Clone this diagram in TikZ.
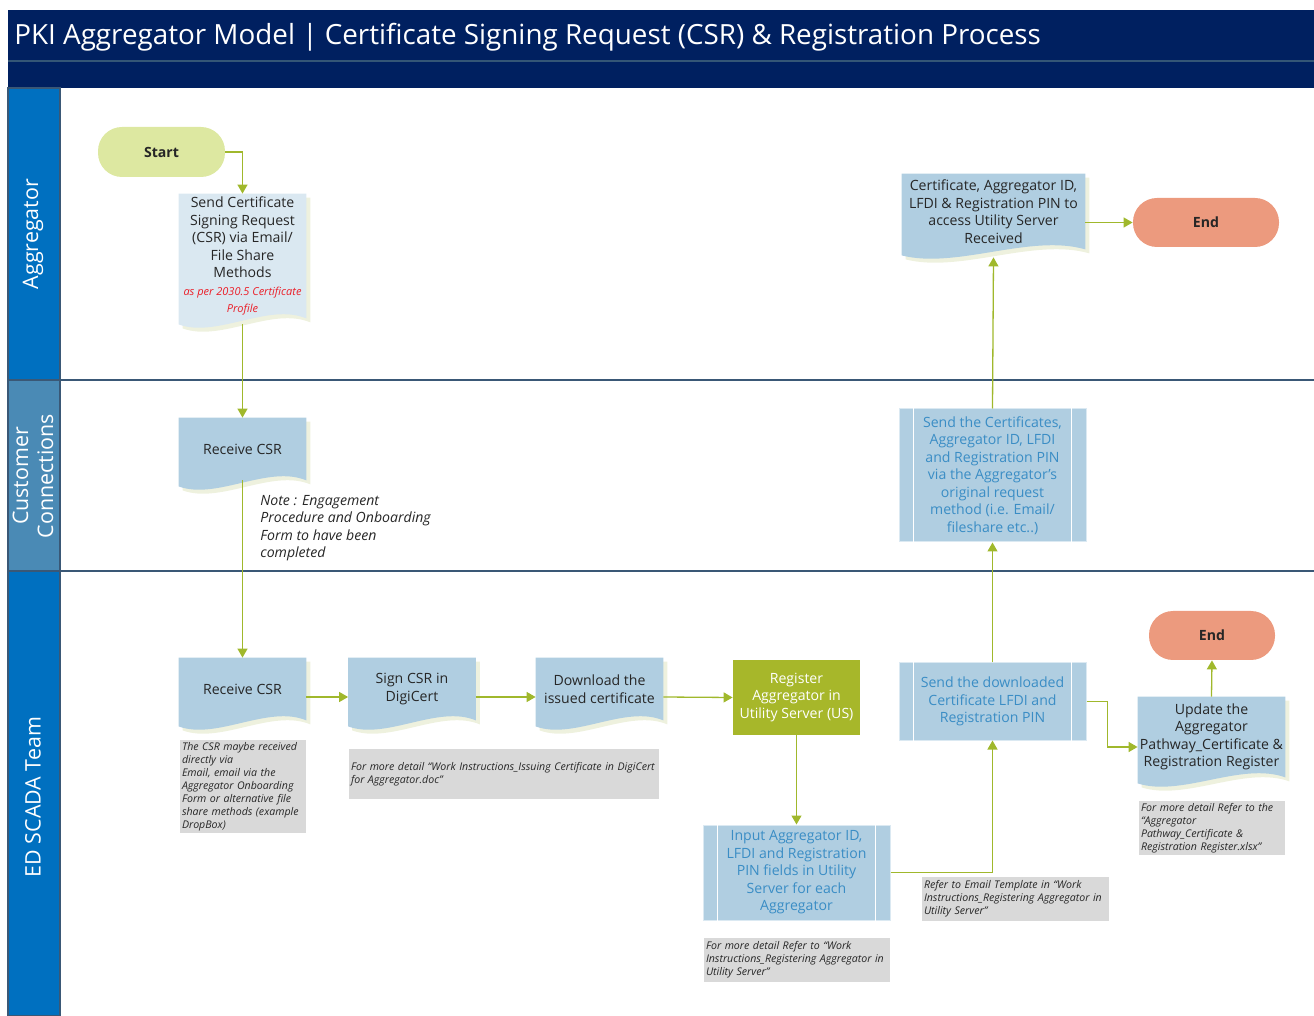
\documentclass[tikz,border=0pt]{standalone}
\usepackage{fontspec}
\setmainfont{Open Sans}
\usetikzlibrary{arrows.meta,calc,backgrounds}

\definecolor{navy}{RGB}{0,32,96}
\definecolor{navyline}{RGB}{52,86,118}
\definecolor{laneblue}{RGB}{0,112,192}
\definecolor{ccblue}{RGB}{74,138,181}
\definecolor{laneline}{RGB}{58,88,118}
\definecolor{startfill}{RGB}{221,232,161}
\definecolor{endfill}{RGB}{236,154,126}
\definecolor{docpale}{RGB}{218,232,241}
\definecolor{docblue}{RGB}{176,206,225}
\definecolor{proctext}{RGB}{58,141,197}
\definecolor{regfill}{RGB}{167,183,42}
\definecolor{flowgreen}{RGB}{160,184,44}
\definecolor{notegray}{RGB}{217,217,217}
\definecolor{shadowcream}{RGB}{238,241,222}
\definecolor{notered}{RGB}{235,30,40}

% document shape with a wavy bottom, #2 is an offset
\newcommand{\wavepath}[2]{($(#1.north west)+(#2)$) -- ($(#1.north east)+(#2)$) -- ($(#1.south east)+(#2)$)
  .. controls ($(#1.south east)!0.3!(#1.south west)+(#2)+(0,-16)$) and ($(#1.south east)!0.7!(#1.south west)+(#2)+(0,20)$)
  .. ($(#1.south west)+(#2)+(0,6)$) -- cycle}
\newcommand{\procbars}[1]{\draw[white, line width=0.8pt] ($(#1.north west)+(15,0)$) -- ($(#1.south west)+(15,0)$)
  ($(#1.north east)+(-15,0)$) -- ($(#1.south east)+(-15,0)$);}
\newcommand{\profnote}[1]{{\color{notered}\itshape\fontsize{5.5}{8}\selectfont #1}}

\begin{document}
\begin{tikzpicture}[
    x=0.5pt, y=-0.5pt,
    every node/.style={font=\fontsize{7.05}{8.75}\selectfont, inner sep=1pt, align=center, text=black!85},
    terminal/.style={rectangle, rounded corners=12pt, minimum width=63.5pt, minimum height=25pt, font=\bfseries\fontsize{7.05}{8.75}\selectfont},
    doc/.style={rectangle, minimum width=63.5pt, minimum height=31pt},
    proc/.style={rectangle, fill=docblue, draw=white!55!docblue, line width=0.5pt, minimum width=93.5pt, text=proctext},
    note/.style={rectangle, fill=notegray, align=left, inner xsep=1pt, font=\itshape\fontsize{5.3}{6.5}\selectfont},
    flow/.style={draw=flowgreen, line width=0.65pt, -{Triangle[width=5pt,length=4.5pt]}},
    lane/.style={fill=laneblue, draw=laneline, line width=0.6pt},
    lanelabel/.style={rotate=90, text=white, font=\fontsize{10.7}{12.5}\selectfont}
  ]
  \useasboundingbox (0,0) rectangle (1314,1016);

  % title and swimlanes
  \fill[navy] (8,10) rectangle (1314,88);
  \draw[navyline, line width=0.8pt] (8,61) -- (1314,61);
  \node (title) [anchor=west, text=white, font=\fontsize{13.9}{17}\selectfont] at (12,37)
    {PKI Aggregator Model | Certificate Signing Request (CSR) \& Registration Process};
  \draw[lane] (8,88) rectangle (60,380);
  \draw[lane, fill=ccblue] (8,380) rectangle (60,571);
  \draw[lane] (8,571) rectangle (60,1016);
  \draw[laneline, line width=0.75pt] (60,380) -- (1314,380) (60,571) -- (1314,571);
  \node (lane_agg) [lanelabel] at (33,234) {Aggregator};
  \node (lane_cc) [lanelabel] at (33,476) {Customer\\Connections};
  \node (lane_ed) [lanelabel] at (33,797) {ED SCADA Team};

  % aggregator lane
  \node (start) [terminal, fill=startfill] at (161.5,152) {Start};
  \node (docsend) [doc, minimum height=62pt] at (242.5,256)
    {Send Certificate\\Signing Request\\(CSR) via Email/\\File Share\\Methods\\\profnote{as per 2030.5 Certificate}\\\profnote{Profile}};
  \node (certrecv) [doc, minimum width=91.5pt, minimum height=37.5pt] at (993.5,211.5)
    {Certificate, Aggregator ID,\\LFDI \& Registration PIN to\\access Utility Server\\Received};
  \node (end1) [terminal, fill=endfill, minimum width=73pt, minimum height=24.5pt] at (1206,222.5) {End};

  % customer connections lane
  \node (recv1) [doc] at (242.5,449) {Receive CSR};
  \node (engage) [anchor=north west, align=left, font=\itshape\fontsize{7.05}{8.75}\selectfont] at (258,493)
    {Note : Engagement\\Procedure and Onboarding\\Form to have been\\completed};
  \node (sendcert) [proc, minimum height=66.5pt] at (992.5,475.5)
    {Send the Certificates,\\Aggregator ID, LFDI\\and Registration PIN\\via the Aggregator's\\original request\\method (i.e. Email/\\fileshare etc..)};

  % ED SCADA lane
  \node (recv2) [doc] at (242.5,689) {Receive CSR};
  \node (sign) [doc] at (412,689) {Sign CSR in\\DigiCert};
  \node (download) [doc] at (599.5,689) {Download the\\issued certificate};
  \node (register) [rectangle, fill=regfill, text=white, minimum width=63.5pt, minimum height=37.5pt] at (796.5,697.5)
    {Register\\Aggregator in\\Utility Server (US)};
  \node (input) [proc, minimum height=47.5pt] at (796.5,872.5)
    {Input Aggregator ID,\\LFDI and Registration\\PIN fields in Utility\\Server for each\\Aggregator};
  \node (senddl) [proc, minimum height=38.5pt] at (992.5,701.5)
    {Send the downloaded\\Certificate LFDI and\\Registration PIN};
  \node (update) [doc, minimum width=73.5pt, minimum height=40pt] at (1211.5,737)
    {Update the\\Aggregator\\Pathway\_Certificate \&\\Registration Register};
  \node (end2) [terminal, fill=endfill, minimum width=63pt, minimum height=24.5pt] at (1212,635.5) {End};

  \node (note_recv) [note, text width=61pt, minimum height=46.5pt] at (243,786.5)
    {The CSR maybe received\\directly via\\Email, email via the\\Aggregator Onboarding\\Form or alternative file\\share methods (example\\DropBox)};
  \node (note_sign) [note, text width=153pt, minimum height=25pt] at (504,774)
    {For more detail “Work Instructions\_Issuing Certificate in DigiCert\\for Aggregator.doc”};
  \node (note_input) [note, text width=91pt, minimum height=22pt] at (797,960)
    {For more detail Refer to “Work\\Instructions\_Registering Aggregator in\\Utility Server”};
  \node (note_email) [note, text width=91.5pt, minimum height=22pt] at (1015.5,899)
    {Refer to Email Template in “Work\\Instructions\_Registering Aggregator in\\Utility Server”};
  \node (note_update) [note, text width=71pt, minimum height=26pt] at (1212,828)
    {For more detail Refer to the\\“Aggregator\\Pathway\_Certificate \&\\Registration Register.xlsx”};

  \foreach \p in {sendcert, input, senddl} {\procbars{\p}}

  \begin{scope}[on background layer]
    \foreach \d/\c in {docsend/docpale, certrecv/docblue, recv1/docblue, recv2/docblue,
                       sign/docblue, download/docblue, update/docblue} {
      \fill[shadowcream] \wavepath{\d}{4,4};
      \fill[\c] \wavepath{\d}{0,0};
    }
  \end{scope}

  % connectors
  \draw[flow] (start.east) -| (docsend.north);
  \draw[flow] ([yshift=-3pt]docsend.south) -- (recv1.north);
  \draw[flow] (recv1.south) -- (recv2.north);
  \draw[flow] ([yshift=-4pt]recv2.east) -- ([yshift=-4pt]sign.west);
  \draw[flow] ([yshift=-4pt]sign.east) -- ([yshift=-4pt]download.west);
  \draw[flow] ([yshift=-4pt]download.east) -- (register.west);
  \draw[flow] (register.south) -- (input.north);
  \draw[flow] (input.east) -| (senddl.south);
  \draw[flow] (senddl.north) -- (sendcert.south);
  \draw[flow] (sendcert.north) -- ([yshift=-4pt]certrecv.south);
  \draw[flow] (certrecv.east |- end1.west) -- (end1.west);
  \draw[flow] (senddl.east) -- ++(21,0) |- ([yshift=-5pt]update.west);
  \draw[flow] (update.north) -- (end2.south);
\end{tikzpicture}
\end{document}
